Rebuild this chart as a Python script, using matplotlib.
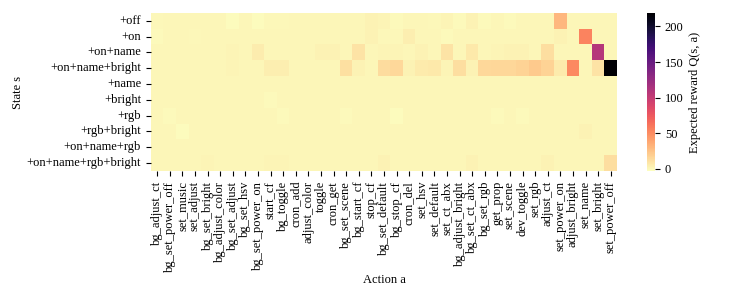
import numpy as np
import matplotlib
matplotlib.use("Agg")
import matplotlib.pyplot as plt
import seaborn as sns

actions = ["bg_adjust_ct", "bg_set_power_off", "set_music", "set_adjust", "bg_set_bright",
           "bg_adjust_color", "bg_set_adjust", "bg_set_hsv", "bg_set_power_on", "start_cf",
           "bg_toggle", "cron_add", "adjust_color", "toggle", "cron_get", "bg_set_scene",
           "bg_start_cf", "stop_cf", "bg_set_default", "bg_stop_cf", "cron_del", "set_hsv",
           "set_default", "set_ct_abx", "bg_adjust_bright", "bg_set_ct_abx", "bg_set_rgb",
           "get_prop", "set_scene", "dev_toggle", "set_rgb", "adjust_ct", "set_power_on",
           "adjust_bright", "set_name", "set_bright", "set_power_off"]
states = ["+off", "+on", "+on+name", "+on+name+bright", "+name", "+bright", "+rgb",
          "+rgb+bright", "+on+name+rgb", "+on+name+rgb+bright"]

q_off = [0, 1, 1, 1, 1, 1, -2, 1, -2, 0, 0, 1, 1, 1, 1, 1, 1, 3, 2, -1, 1, 1, 0, 2, -1, 3, -1, 1, -1, 1, 1, 1, 30, 1, 1, 1, 1]
q_on = [-1, 1, 1, 0, 1, 1, 1, 1, 1, 1, 1, 1, 1, 1, 1, 1, 1, 3, 0, 0, 4, 1, 1, -1, 1, 1, 1, 1, 1, 1, 1, 1, 3, 1, 55, 1, 1]
q_on_name = [1, 1, 1, 1, 1, 1, 2, 1, 5, 1, 1, 1, 1, 3, 3, 1, 10, 1, 2, 2, 1, 3, 1, 10, 1, 7, 1, 2, 3, 3, 1, 12, 1, 1, 1, 108, 1]
q_on_name_bright = [1, 1, 1, 1, 1, 1, 2, 1, 1, 4, 4, 1, 1, 1, 1, 11, 3, 1, 13, 15, 3, 6, 7, 2, 12, 3, 15, 16, 16, 17, 22, 17, 6, 52, 1, 10, 219]
q_name = [1, 1, 1, 1, 1, 1, 1, 1, 1, 1, 1, 1, 1, 1, 1, 1, 1, 1, 1, 1, 1, 1, 1, 1, 1, 1, 1, 1, 1, 1, 1, 1, 1, 1, 1, 1, 1]
q_bright = [1, 1, 1, 1, 1, 1, 1, 1, 1, -1, 1, 1, 1, 1, 1, 1, 1, 1, 1, 1, 1, 1, 1, 1, 1, 1, 1, 1, 1, 1, 1, 1, 1, 1, 1, 1, 1]
q_rgb = [1, -1, 1, 1, 1, 1, 1, 1, 1, 1, -1, 1, 1, 1, 1, -1, 1, 1, 1, -2, 1, 1, 1, 1, 1, 1, 1, -1, 1, -1, 1, 1, 1, 1, 1, 1, 1]
q_rgb_bright = [1, 1, -2, 1, 1, 1, 1, 1, 1, 1, 1, 1, 1, 1, 1, 1, 1, 1, 1, 1, 1, 1, 1, 1, 1, 1, 1, 1, 1, 1, 1, 1, 1, 1, 3, 1, 1]
q_on_name_rgb = [1, 1, 1, 1, 1, 1, 1, 1, 1, 1, 1, 1, 1, 1, 1, 1, 1, 1, 1, 1, 1, 1, 1, 1, 1, 1, 1, 1, 1, 1, 1, 1, 1, 1, 1, 1, 1]
q_on_name_rgb_bright = [1, 1, 1, 1, 2, 1, 1, 1, 1, 2, 2, 1, 1, 1, 1, 1, 1, 1, 3, 1, 1, 1, 1, 1, 1, 3, 1, 1, 1, 1, 1, 3, 1, 1, 1, 1, 12]

Q = np.array([q_off, q_on, q_on_name, q_on_name_bright, q_name, q_bright, q_rgb,
              q_rgb_bright, q_on_name_rgb, q_on_name_rgb_bright], dtype=float)

plt.rcParams["font.family"] = ["Liberation Serif", "DejaVu Serif"]
plt.rcParams["font.size"] = 9

fig = plt.figure(figsize=(7.47, 2.99), dpi=100)
ax = fig.add_axes([0.202, 0.428, 0.624, 0.529])
cax = fig.add_axes([0.866, 0.428, 0.011, 0.529])

sns.heatmap(Q, ax=ax, cbar_ax=cax, cmap="magma_r", vmin=-3, vmax=219,
            xticklabels=actions, yticklabels=states,
            cbar_kws={"label": "Expected reward Q(s, a)", "ticks": [0, 50, 100, 150, 200]})
ax.set_xlabel("Action a", labelpad=2)
ax.set_ylabel("State s", labelpad=2)
ax.tick_params(axis="x", rotation=90)
ax.tick_params(axis="y", rotation=0)

fig.savefig("out.png", dpi=100)
